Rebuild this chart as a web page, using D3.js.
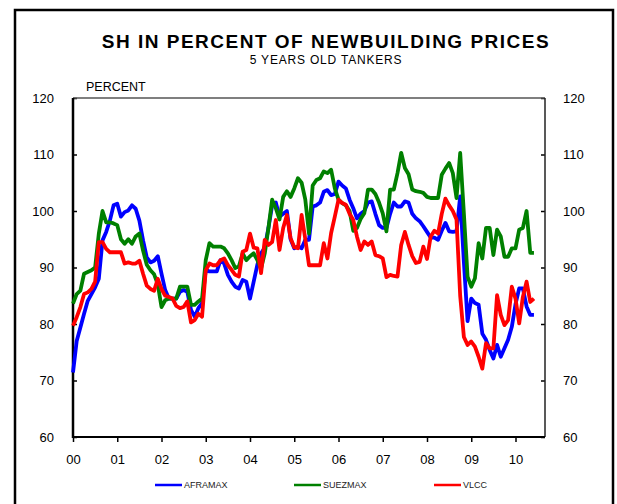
<!DOCTYPE html>
<html lang="en">
<head>
  <meta charset="UTF-8">
  <title>SH in percent of newbuilding prices</title>
  <script src="https://d3js.org/d3.v7.min.js"></script>
  <style>
    body { margin: 0; background: #fff; }
    text { font-family: "Liberation Sans", Arial, sans-serif; }
  </style>
</head>
<body>
  <div id="chart"></div>
  <script>
    const width = 617;
    const height = 504;

    // x axis labels, one per January
    const yearLabels = ["00", "01", "02", "03", "04", "05", "06", "07", "08", "09", "10"];
    const yTicks = [60, 70, 80, 90, 100, 110, 120];

    // monthly values, Jan 2000 - Jun 2010
    const aframax = [
      71.4, 77, 79.4, 81.8, 84.1, 85.3, 86.5, 88, 94.8, 96.3, 98.3, 101,
      101.3, 99, 99.8, 100.1, 101, 100.4, 98.3, 94.8, 91.8, 90.9, 91.2, 92,
      88.9, 86, 84.5, 84.5, 84.5, 85.7, 86, 85.7, 82.5, 81.3, 82.8, 83.7,
      89.6, 89.3, 89.3, 89.3, 91.3, 90.7, 88.7, 87.5, 86.6, 86.3, 87.8, 87.5,
      84.5, 87.5, 90.5, 92.5, 93.5, 97, 101, 101.5, 99, 99.5, 100, 95,
      93.4, 93.7, 93.4, 94.9, 94.9, 100.8, 101, 101.5, 103.4, 103.7, 102.8, 103,
      105.2, 104.5, 104, 102, 100.5, 98.7, 99.5, 100, 101.5, 101.7, 99.5, 97.5,
      97, 97, 99.5, 101.5, 100.8, 100.8, 101.7, 101.5, 99.5, 98.7, 98.2, 97.3,
      96.3, 95.3, 95.3, 94.9, 96.5, 97.9, 96.4, 96.3, 96.4, 102.6, 91, 80.5,
      84.5, 83.7, 83.4, 78.3, 77.2, 75.4, 73.9, 76.3, 74.2, 75.7, 77.2, 79.5,
      83.5, 86.3, 86.3, 83.1, 81.6, 81.6
    ];
    const suezmax = [
      83.6, 85.3, 85.9, 88.9, 89.2, 89.5, 90, 96, 100, 98, 98, 97.8,
      97.5, 95, 94.2, 95, 94.2, 95.5, 96, 93, 90.5, 89.5, 88.8, 87,
      83, 84.2, 84.5, 84.5, 84.5, 86.6, 86.6, 86.6, 83.4, 83.4, 84, 84.5,
      91.3, 94.3, 93.7, 93.7, 93.7, 93.4, 92.5, 91.3, 89.9, 90.2, 92.5, 91.3,
      92, 92.5, 91.3, 89.8, 92.5, 97, 102, 100.5, 98.5, 102.5, 103.5, 102.5,
      104, 105.8, 105, 102, 96, 104.5, 105.5, 105.8, 107, 106.7, 107.3, 104,
      102, 101.4, 101, 100, 96.5, 97, 98.6, 99.6, 103.8, 103.8, 103, 101.5,
      99.6, 96.4, 103.8, 103.8, 106.7, 110.3, 107.6, 106.5, 103.8, 103.5, 103.4, 103.2,
      102.5, 102.3, 102.3, 102.3, 106.4, 107.5, 108.5, 106.7, 102.3, 110.3, 99.6, 88.4,
      86.6, 88.1, 94.3, 91.6, 97, 97, 92.2, 96.7, 95.5, 91.9, 91.9, 93.4,
      93.4, 96.7, 97, 100, 92.6, 92.6
    ];
    const vlcc = [
      79.7, 81.2, 83, 85.3, 85.6, 86.2, 87.5, 94.5, 94.5, 93.3, 92.7, 92.7,
      92.7, 92.7, 90.7, 90.9, 90.7, 90.7, 91.2, 88.9, 86.8, 86.2, 85.9, 88,
      86.2, 85, 84.8, 84.5, 83.2, 82.8, 83, 84, 80.3, 80.7, 81.8, 81.3,
      89.5, 90.7, 90.4, 90.4, 91.3, 91.6, 90.4, 89.6, 88.7, 88.4, 92.8, 93.1,
      96, 93.5, 93.4, 89, 94.9, 94, 94.5, 98.4, 93.1, 97, 99.3, 95.2,
      93.6, 93.4, 99.3, 95, 90.4, 90.4, 90.4, 90.4, 94.3, 91.6, 96.1, 99,
      102, 101.4, 101.1, 99.5, 98.4, 95.5, 93.1, 94.6, 94, 94.6, 92.2, 92,
      91.6, 88.3, 88.7, 88.5, 88.4, 94, 96.3, 94, 92, 90.8, 91, 93.7,
      91.5, 95.5, 96.5, 96, 99.5, 102.2, 101, 100, 98.5, 85, 77.7, 76.3,
      76.9, 76, 74.2, 72.1, 76.6, 75.7, 75.7, 85.1, 81.6, 79.8, 80.7, 86.6,
      84.5, 80.1, 84.8, 87.5, 83.9, 84.5
    ];

    const seriesNames = ["AFRAMAX", "SUEZMAX", "VLCC"];
    const seriesColors = ["#0000ff", "#008000", "#ff0000"];
    const seriesValues = [aframax, suezmax, vlcc];

    const svg = d3.select("#chart")
      .append("svg")
      .attr("width", width)
      .attr("height", height);

    // outer frame
    svg.append("rect")
      .attr("x", 15).attr("y", 10)
      .attr("width", 598).attr("height", 510)
      .attr("fill", "none")
      .attr("stroke", "#000")
      .attr("stroke-width", 2.5);

    svg.append("text")
      .attr("x", 326).attr("y", 48)
      .attr("text-anchor", "middle")
      .attr("font-size", 19)
      .attr("font-weight", "bold")
      .attr("letter-spacing", 1.5)
      .text("SH IN PERCENT OF NEWBUILDING PRICES");

    svg.append("text")
      .attr("x", 326).attr("y", 64)
      .attr("text-anchor", "middle")
      .attr("font-size", 12)
      .attr("letter-spacing", 0.8)
      .text("5 YEARS OLD TANKERS");

    svg.append("text")
      .attr("x", 86).attr("y", 91)
      .attr("font-size", 12.5)
      .text("PERCENT");

    const plotL = 73, plotR = 545, plotT = 98, plotB = 437;

    // months since Jan 2000
    const x = d3.scaleLinear().domain([0, 128]).range([plotL, plotR]);
    const y = d3.scaleLinear().domain([60, 120]).range([plotB, plotT]);

    // left and right axes: ticks pointing inward
    svg.append("g")
      .attr("transform", `translate(${plotL},0)`)
      .call(d3.axisRight(y).tickValues(yTicks).tickSize(4).tickFormat(""))
      .call(g => g.select(".domain").remove())
      .call(g => g.selectAll("line").attr("stroke", "#000").attr("stroke-width", 1.5));

    svg.append("g")
      .attr("transform", `translate(${plotR},0)`)
      .call(d3.axisLeft(y).tickValues(yTicks).tickSize(4).tickFormat(""))
      .call(g => g.select(".domain").remove())
      .call(g => g.selectAll("line").attr("stroke", "#000").attr("stroke-width", 1.5));

    // y labels both sides
    svg.append("g").selectAll("text")
      .data(yTicks).enter().append("text")
      .attr("x", 54).attr("y", d => y(d))
      .attr("dy", "0.36em")
      .attr("text-anchor", "end")
      .attr("font-size", 13)
      .text(d => d);

    svg.append("g").selectAll("text")
      .data(yTicks).enter().append("text")
      .attr("x", 563).attr("y", d => y(d))
      .attr("dy", "0.36em")
      .attr("font-size", 13)
      .text(d => d);

    // bottom axis: a tick each January
    const xAxis = svg.append("g")
      .attr("transform", `translate(0,${plotB})`)
      .call(d3.axisBottom(x)
        .tickValues(yearLabels.map((d, i) => i * 12))
        .tickSize(5)
        .tickPadding(13)
        .tickFormat((d, i) => yearLabels[i]));
    xAxis.select(".domain").remove();
    xAxis.selectAll("line").attr("stroke", "#000").attr("stroke-width", 1.5);
    xAxis.selectAll("text")
      .attr("font-size", 13)
      .attr("font-family", "'Liberation Sans', Arial, sans-serif")
      .attr("fill", "#000");

    // plot frame
    svg.append("line")
      .attr("x1", plotL).attr("x2", plotR).attr("y1", plotT).attr("y2", plotT)
      .attr("stroke", "#555").attr("stroke-width", 1.5);
    svg.append("line")
      .attr("x1", plotR).attr("x2", plotR).attr("y1", plotT).attr("y2", plotB)
      .attr("stroke", "#222").attr("stroke-width", 1.5);
    svg.append("line")
      .attr("x1", plotL).attr("x2", plotR).attr("y1", plotB).attr("y2", plotB)
      .attr("stroke", "#000").attr("stroke-width", 2);
    svg.append("line")
      .attr("x1", plotL).attr("x2", plotL).attr("y1", plotT).attr("y2", plotB + 1)
      .attr("stroke", "#000").attr("stroke-width", 2.5);

    const line = d3.line()
      .x((d, i) => x(i))
      .y(d => y(d));

    seriesValues.forEach((vals, k) => {
      svg.append("path")
        .datum(vals)
        .attr("d", line)
        .attr("fill", "none")
        .attr("stroke", seriesColors[k])
        .attr("stroke-width", 3.8)
        .attr("stroke-linejoin", "round");
    });

    // legend
    const legendX = [155, 294, 434];
    const legend = svg.append("g");
    seriesNames.forEach((name, k) => {
      legend.append("line")
        .attr("x1", legendX[k]).attr("x2", legendX[k] + 27)
        .attr("y1", 485).attr("y2", 485)
        .attr("stroke", seriesColors[k])
        .attr("stroke-width", 2.5);
      legend.append("text")
        .attr("x", legendX[k] + 29).attr("y", 485)
        .attr("dy", "0.35em")
        .attr("font-size", 9)
        .attr("fill", "#222")
        .text(name);
    });
  </script>
</body>
</html>
